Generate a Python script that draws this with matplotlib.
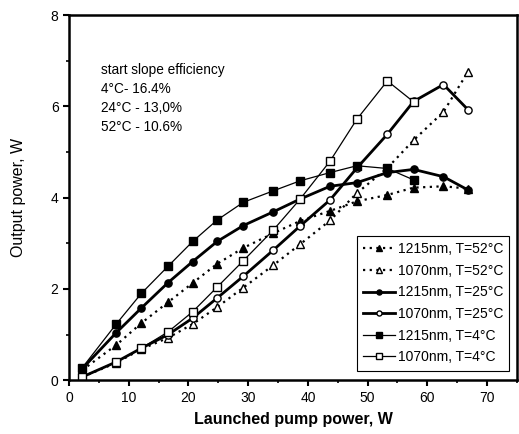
import matplotlib
matplotlib.use("Agg")
import matplotlib.pyplot as plt
from matplotlib.ticker import MultipleLocator

plt.rcParams['font.family'] = ['Liberation Sans', 'DejaVu Sans']

# launched pump power, W
pump = [2.2, 7.9, 12.1, 16.6, 20.7, 24.8, 29.2, 34.2, 38.7, 43.7, 48.2, 53.3, 57.7, 62.7, 66.8]

# output power, W
p1215_52 = [0.22, 0.77, 1.25, 1.71, 2.13, 2.55, 2.9, 3.22, 3.49, 3.71, 3.92, 4.06, 4.22, 4.25, 4.2]
p1070_52 = [0.07, 0.38, 0.68, 0.93, 1.23, 1.6, 2.03, 2.52, 2.98, 3.5, 4.1, 4.65, 5.26, 5.88, 6.76]
p1215_25 = [0.25, 1.04, 1.58, 2.14, 2.6, 3.04, 3.39, 3.69, 3.97, 4.25, 4.33, 4.55, 4.62, 4.46, 4.17]
p1070_25 = [0.07, 0.4, 0.7, 1.0, 1.36, 1.8, 2.28, 2.85, 3.38, 3.95, 4.65, 5.39, 6.11, 6.48, 5.93]
p1215_4 = [0.27, 1.23, 1.9, 2.5, 3.04, 3.51, 3.9, 4.15, 4.37, 4.55, 4.7, 4.64, 4.39]
p1070_4 = [0.07, 0.4, 0.7, 1.06, 1.5, 2.04, 2.62, 3.29, 3.97, 4.8, 5.72, 6.56, 6.1]

labels = ['1215nm, T=52°C', '1070nm, T=52°C', '1215nm, T=25°C',
          '1070nm, T=25°C', '1215nm, T=4°C', '1070nm, T=4°C']
notes = ['start slope efficiency', '4°C- 16.4%', '24°C - 13,0%', '52°C - 10.6%']

fig = plt.figure(figsize=(5.19, 4.34), dpi=100)
ax = fig.add_axes([0.133, 0.124, 0.863, 0.841])

ms = 5.2
ax.plot(pump, p1215_52, color='black', lw=1.6, ls=(0, (1, 2)), marker='^', ms=ms,
        mfc='black', mec='black', label=labels[0])
ax.plot(pump, p1070_52, color='black', lw=1.6, ls=(0, (1, 2)), marker='^', ms=ms,
        mfc='white', mec='black', label=labels[1])
ax.plot(pump, p1215_25, color='black', lw=2.0, marker='o', ms=ms,
        mfc='black', mec='black', label=labels[2])
ax.plot(pump, p1070_25, color='black', lw=2.0, marker='o', ms=ms,
        mfc='white', mec='black', label=labels[3])
ax.plot(pump[:len(p1215_4)], p1215_4, color='black', lw=0.9, marker='s', ms=ms,
        mfc='black', mec='black', label=labels[4])
ax.plot(pump[:len(p1070_4)], p1070_4, color='black', lw=0.9, marker='s', ms=ms,
        mfc='white', mec='black', label=labels[5])

ax.set_xlim(0, 75)
ax.set_ylim(0, 8)
ax.xaxis.set_major_locator(MultipleLocator(10))
ax.xaxis.set_minor_locator(MultipleLocator(5))
ax.yaxis.set_major_locator(MultipleLocator(2))
ax.yaxis.set_minor_locator(MultipleLocator(1))
ax.tick_params(which='major', direction='out', length=4, width=1.5, labelsize=10)
ax.tick_params(which='minor', direction='out', length=2.5, width=1.2)
for s in ax.spines.values():
    s.set_linewidth(1.8)

ax.set_xlabel('Launched pump power, W', fontsize=11.5, fontweight='bold', labelpad=5)
ax.set_ylabel('Output power, W', fontsize=11.5, labelpad=18)

for i, t in enumerate(notes):
    ax.text(5.3, 6.72 - i * 0.42, t, fontsize=9.8)

leg = ax.legend(loc='lower right', bbox_to_anchor=(0.992, 0.015), fontsize=10,
                fancybox=False, framealpha=1, edgecolor='black', handlelength=2.3,
                handletextpad=0.2, borderpad=0.45, borderaxespad=0.3,
                labelspacing=0.55, markerscale=0.7)
leg.get_frame().set_linewidth(0.8)

fig.savefig('out.png', dpi=100)
